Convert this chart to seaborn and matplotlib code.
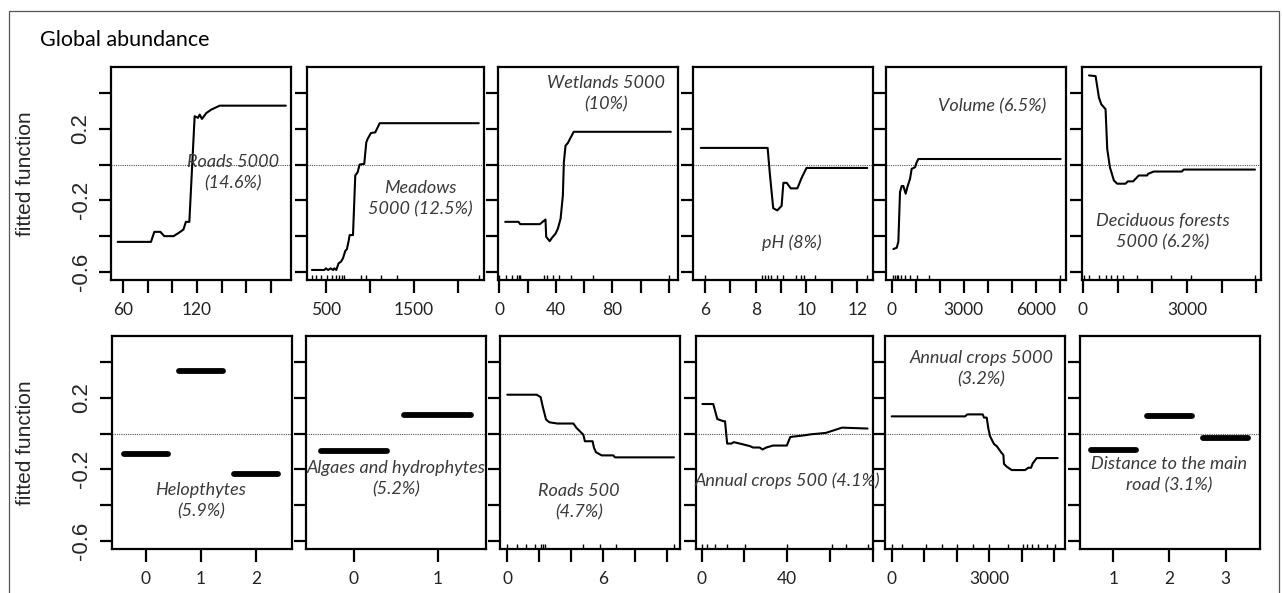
import numpy as np
import pandas as pd
import seaborn as sb
from matplotlib import pyplot as plt
from matplotlib.patches import Rectangle

# partial dependence curves
roads5000_x = [55.7, 82.7, 85.4, 90.3, 93.5, 101, 105.6, 109, 111, 113.8, 118.1, 120.8, 122.2, 124, 127.6, 131.6, 138.4, 192]
roads5000_y = [-0.432, -0.432, -0.376, -0.376, -0.40, -0.40, -0.38, -0.363, -0.32, -0.32, 0.27, 0.261, 0.279, 0.255, 0.288, 0.307, 0.329, 0.329]

meadows_x = [340, 481, 499, 525, 553, 580, 595, 617, 643, 670, 693, 719, 738, 757, 769, 807, 833, 860, 882, 935, 958, 973, 1011, 1060, 1087, 1110, 2236]
meadows_y = [-0.589, -0.589, -0.580, -0.589, -0.580, -0.589, -0.580, -0.589, -0.552, -0.543, -0.524, -0.483, -0.472, -0.428, -0.394, -0.394, -0.061, -0.043, 0.0, 0.004, 0.124, 0.143, 0.176, 0.180, 0.207, 0.231, 0.231]
meadows_rug = [337, 386, 443, 508, 572, 610, 651, 678, 708, 898, 951, 1121, 1303, 2239]

wetlands_x = [4.2, 13.6, 14.8, 28.7, 32.7, 33.2, 35.7, 37.3, 39.9, 41.5, 43.4, 45.0, 45.7, 46.9, 48.5, 50.2, 52.7, 121.4]
wetlands_y = [-0.320, -0.320, -0.333, -0.333, -0.307, -0.404, -0.428, -0.409, -0.385, -0.357, -0.302, -0.172, 0.013, 0.106, 0.120, 0.146, 0.183, 0.183]
wetlands_rug = [0, 4.7, 9.3, 12.4, 14.0, 14.7, 31.5, 34.1, 38.0, 42.2, 50.9, 66.5, 120]

ph_x = [5.84, 8.47, 8.56, 8.69, 8.85, 9.02, 9.09, 9.22, 9.38, 9.64, 9.81, 10.0, 12.39]
ph_y = [0.093, 0.093, -0.056, -0.244, -0.256, -0.231, -0.102, -0.102, -0.133, -0.133, -0.074, -0.019, -0.019]
ph_rug = [6.0, 8.23, 8.36, 8.49, 8.62, 8.82, 9.08, 9.58, 9.77, 9.91, 10.33, 12.39]

volume_x = [69, 208, 277, 346, 416, 485, 582, 651, 762, 831, 970, 1040, 1109, 7026]
volume_y = [-0.472, -0.465, -0.431, -0.154, -0.120, -0.120, -0.163, -0.126, -0.080, -0.024, -0.015, 0.013, 0.031, 0.031]
volume_rug = [68, 139, 208, 277, 388, 554, 762, 1040, 1566, 6998]

decid_x = [172, 364, 460, 527, 651, 699, 776, 891, 987, 1226, 1293, 1446, 1609, 1849, 1878, 2040, 2854, 2902, 4962]
decid_y = [0.498, 0.494, 0.374, 0.337, 0.309, 0.087, -0.015, -0.089, -0.107, -0.107, -0.094, -0.094, -0.061, -0.061, -0.052, -0.039, -0.039, -0.028, -0.028]
decid_rug = [29, 172, 460, 651, 814, 987, 1149, 1561, 2538, 3123, 4962]

helo_levels = [0, 1, 2]
helo_y = [-0.117, 0.352, -0.228]

algae_levels = [0, 1]
algae_y = [-0.096, 0.102]

roads500_x = [0.0, 1.83, 2.08, 2.21, 2.42, 2.63, 3.13, 4.13, 4.33, 4.75, 4.85, 5.33, 5.42, 5.54, 5.90, 6.63, 6.73, 10.42]
roads500_y = [0.217, 0.217, 0.204, 0.152, 0.078, 0.063, 0.056, 0.056, 0.031, -0.006, -0.043, -0.043, -0.080, -0.104, -0.122, -0.122, -0.133, -0.133]
roads500_rug = [0, 0.59, 1.17, 1.73, 2.08, 2.21, 2.35, 4.75, 5.79, 6.77, 10.42]

crops500_x = [0.3, 5.4, 7.3, 10.1, 10.9, 11.9, 13.9, 15.0, 17.8, 22.5, 24.0, 27.1, 28.4, 30.2, 33.3, 39.8, 41.4, 47.3, 51.2, 55.0, 58.1, 62.0, 65.6, 77.5]
crops500_y = [0.165, 0.165, 0.081, 0.069, 0.069, -0.056, -0.056, -0.048, -0.056, -0.070, -0.078, -0.078, -0.089, -0.078, -0.067, -0.067, -0.019, -0.011, -0.004, 0.0, 0.004, 0.019, 0.033, 0.028]
crops500_rug = [0, 2.6, 6.2, 11.9, 20.1, 40, 60.8, 67.4, 77.5]

crops5000_x = [0, 2256, 2328, 2800, 2841, 2923, 2974, 3026, 3149, 3231, 3354, 3436, 3456, 3538, 3692, 4103, 4205, 4287, 4338, 4462, 5108]
crops5000_y = [0.096, 0.096, 0.107, 0.107, 0.089, 0.089, 0.028, -0.015, -0.059, -0.070, -0.102, -0.120, -0.170, -0.185, -0.204, -0.204, -0.191, -0.191, -0.167, -0.137, -0.137]
crops5000_rug = [0, 308, 1056, 1538, 2021, 2513, 3005, 3590, 4051, 4154, 4308, 4513, 4769, 5026]

dist_levels = [1, 2, 3]
dist_y = [-0.093, 0.096, -0.024]

# y axis of every panel
y_ticks = [-0.6, -0.4, -0.2, 0.0, 0.2, 0.4]
y_ticklabels = ["-0.6", "", "-0.2", "", "0.2", ""]

W, H = 1282, 593
ROW_PX = [(67, 280), (336, 549)]
COL_PX = [
    [(111, 291), (306.7, 484.3), (498.3, 678.3), (692.7, 873.3), (885.7, 1066), (1082.3, 1261)],
    [(111.7, 292), (305.7, 485.7), (500, 679.7), (695.7, 873.3), (885, 1065), (1080, 1260)],
]

# (kind, x, y, rug, xlim, xticks, shown tick labels, note, note position)
panels = [
    [
        ("line", roads5000_x, roads5000_y, None, (50.3, 196.2), list(range(60, 181, 20)), [60, 120],
         "Roads 5000\n(14.6%)", (0.68, 0.505)),
        ("line", meadows_x, meadows_y, meadows_rug, (281, 2299), [500, 1000, 1500, 2000], [500, 1500],
         "Meadows\n5000 (12.5%)", (0.638, 0.38)),
        ("line", wetlands_x, wetlands_y, wetlands_rug, (-0.7, 126.7), list(range(0, 121, 20)), [0, 40, 80],
         "Wetlands 5000\n(10%)", (0.6, 0.873)),
        ("line", ph_x, ph_y, ph_rug, (5.52, 12.63), list(range(6, 13)), [6, 8, 10, 12],
         "pH (8%)", (0.55, 0.174)),
        ("line", volume_x, volume_y, volume_rug, (-249, 7247), list(range(0, 7001, 1000)), [0, 3000, 6000],
         "Volume (6.5%)", (0.588, 0.817)),
        ("line", decid_x, decid_y, decid_rug, (-20, 5135), list(range(0, 5001, 1000)), [0, 3000],
         "Deciduous forests\n5000 (6.2%)", (0.45, 0.225)),
    ],
    [
        ("factor", helo_levels, helo_y, None, (-0.62, 2.66), [0, 1, 2], [0, 1, 2],
         "Helopthytes\n(5.9%)", (0.495, 0.225)),
        ("factor", algae_levels, algae_y, None, (-0.577, 1.574), [0, 1], [0, 1],
         "Algaes and hydrophytes\n(5.2%)", (0.503, 0.33)),
        ("line", roads500_x, roads500_y, roads500_rug, (-0.46, 10.78), list(range(0, 11, 2)), [0, 6],
         "Roads 500\n(4.7%)", (0.44, 0.224)),
        ("line", crops500_x, crops500_y, crops500_rug, (-2.8, 80.2), list(range(0, 81, 20)), [0, 40],
         "Annual crops 500 (4.1%)", (0.514, 0.319)),
        ("line", crops5000_x, crops5000_y, crops5000_rug, (-206, 5332), list(range(0, 5001, 1000)), [0, 3000],
         "Annual crops 5000\n(3.2%)", (0.537, 0.847)),
        ("factor", dist_levels, dist_y, None, (0.41, 3.61), [1, 2, 3], [1, 2, 3],
         "Distance to the main\nroad (3.1%)", (0.496, 0.347)),
    ],
]

SEG_HALF = 0.4


def draw_panel(ax, spec, first_col):
    kind, xs, ys, rug, xlim, xticks, shown, note, note_pos = spec

    ax.axhline(0, color="#555555", lw=0.8, ls=(0, (1, 1)), zorder=1)

    if kind == "line":
        sb.lineplot(x=xs, y=ys, ax=ax, color="black", lw=1.5, estimator=None, sort=False, zorder=3)
    else:
        # one thick horizontal bar per factor level
        rows = []
        for lev, val in zip(xs, ys):
            rows.append((lev, lev - SEG_HALF, val))
            rows.append((lev, lev + SEG_HALF, val))
        df = pd.DataFrame(rows, columns=["level", "x", "y"])
        sb.lineplot(data=df, x="x", y="y", units="level", estimator=None, ax=ax,
                    color="black", lw=4.2, solid_capstyle="round", sort=False, zorder=3)

    if rug is not None:
        sb.rugplot(x=rug, ax=ax, height=0.022, color="black", lw=1.3, expand_margins=False)

    ax.set_xlim(*xlim)
    ax.set_ylim(-0.645, 0.545)
    ax.set_xticks(xticks)
    ax.set_xticklabels([str(t) if t in shown else "" for t in xticks])
    ax.set_yticks(y_ticks)
    if first_col:
        ax.set_yticklabels(y_ticklabels, rotation=90, va="center", family="Liberation Sans", fontsize=16)
    else:
        ax.set_yticklabels([])
    ax.set_xlabel("")
    ax.set_ylabel("")

    ax.tick_params(axis="both", direction="out", length=9, width=1.6, color="black",
                   bottom=True, left=True)
    ax.tick_params(axis="x", labelsize=12.5, pad=7, labelcolor="#222222")
    ax.tick_params(axis="y", pad=5)
    for sp in ax.spines.values():
        sp.set_visible(True)
        sp.set_color("black")
        sp.set_linewidth(1.6)

    ax.text(note_pos[0], note_pos[1], note, transform=ax.transAxes, ha="center", va="center",
            fontsize=13, style="italic", color="#3a3a3a", linespacing=1.4)


def main():
    sb.set_theme(style="white")
    plt.rcParams["font.family"] = ["Lato", "DejaVu Sans"]

    fig = plt.figure(figsize=(W / 100, H / 100), dpi=100)

    # outer frame of the figure panel
    fig.add_artist(Rectangle((9 / W, -0.05), (1279 - 9) / W, 1 - 11 / H + 0.05,
                             transform=fig.transFigure, fill=False, ec="#555555", lw=0.9))
    fig.text(40 / W, 1 - 40 / H, "Global abundance", fontsize=15.5, ha="left", va="center", color="black")

    for r, (top, bot) in enumerate(ROW_PX):
        for c, (left, right) in enumerate(COL_PX[r]):
            ax = fig.add_axes([left / W, 1 - bot / H, (right - left) / W, (bot - top) / H])
            draw_panel(ax, panels[r][c], c == 0)
        fig.text(26 / W, 1 - ((top + bot) / 2) / H, "fitted function", rotation=90,
                 ha="center", va="center", fontsize=15, family="Liberation Sans")

    fig.savefig("out.png", dpi=100, facecolor="white")


if __name__ == "__main__":
    main()
